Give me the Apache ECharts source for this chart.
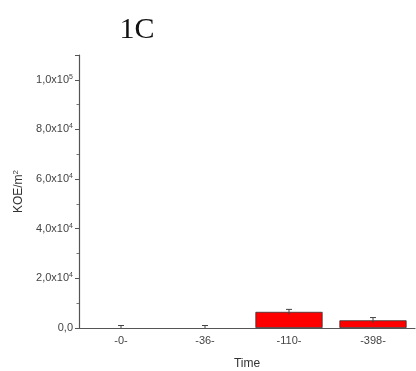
<!DOCTYPE html>
<html><head><meta charset="utf-8">
<script src="https://cdn.jsdelivr.net/npm/echarts@6/dist/echarts.min.js"></script>
<style>html,body{margin:0;padding:0;background:#fff}#c{width:416px;height:371px}</style>
</head><body><div id="c"></div>
<script>
var categories = ['-0-', '-36-', '-110-', '-398-'];
var values = [0, 0, 6500, 3100];
var errors = [1000, 1000, 1000, 1100];
var yTicks = {20000: ['2,0', '4'], 40000: ['4,0', '4'], 60000: ['6,0', '4'], 80000: ['8,0', '4'], 100000: ['1,0', '5']};

var chart = echarts.init(document.getElementById('c'));
chart.setOption({
  animation: false,
  title: {text: '1C', left: 132, top: 10, textAlign: 'center',
    textStyle: {fontFamily: 'Liberation Serif', fontSize: 30, fontWeight: 'normal', color: '#111'}},
  grid: {left: 79, right: 1, top: 55, bottom: 43, outerBoundsMode: 'none', containLabel: false},
  xAxis: [{
    type: 'category', data: categories,
    name: 'Time', nameLocation: 'middle', nameGap: 30,
    nameTextStyle: {fontFamily: 'Liberation Sans', fontSize: 12, color: '#333'},
    axisLine: {lineStyle: {color: '#555', width: 1.2}},
    axisTick: {alignWithLabel: true, length: 4, lineStyle: {color: '#555'}},
    axisLabel: {fontFamily: 'Liberation Sans', fontSize: 11, color: '#444', margin: 7}
  }, {
    type: 'category', data: categories, position: 'bottom',
    axisLine: {show: false}, axisLabel: {show: false},
    axisTick: {length: 3, lineStyle: {color: '#555'}}
  }],
  yAxis: {
    type: 'value', min: 0, max: 110000, interval: 20000,
    name: 'KOE/m{s|2}', nameLocation: 'middle', nameGap: 44, nameRotate: 90,
    nameTextStyle: {fontFamily: 'Liberation Sans', fontSize: 12, color: '#333',
      rich: {s: {fontSize: 8, padding: [0, 0, 7, 0], fontFamily: 'Liberation Sans', color: '#333'}}},
    axisLine: {show: true, lineStyle: {color: '#555', width: 1.2}},
    axisTick: {show: true, length: 4, lineStyle: {color: '#555'}},
    minorTick: {show: true, splitNumber: 2, length: 2.5, lineStyle: {color: '#777'}},
    splitLine: {show: false},
    axisLabel: {fontFamily: 'Liberation Sans', fontSize: 11, color: '#444', margin: 6,
      formatter: function (v) {
        if (v === 0) return '0,0';
        var t = yTicks[v];
        if (!t) return '';
        return t[0] + 'x10{s|' + t[1] + '}';
      },
      rich: {s: {fontSize: 7, padding: [0, 0, 6, 0], color: '#444', fontFamily: 'Liberation Sans'}}
    }
  },
  series: [{
    type: 'bar', barWidth: '80%',
    data: values.map(function (v) {
      return {value: v, itemStyle: {borderWidth: v === 0 ? 0 : 0.8}};
    }),
    itemStyle: {color: '#ff0000', borderColor: '#333'}
  }, {
    type: 'custom',
    data: values.map(function (v, i) { return [i, v, errors[i]]; }),
    renderItem: function (params, api) {
      var x = api.value(0), v = api.value(1), e = api.value(2);
      var top = api.coord([x, v + e]);
      var bot = api.coord([x, Math.max(0, v - e)]);
      var hw = 3;
      var st = {stroke: '#444', lineWidth: 1};
      return {type: 'group', children: [
        {type: 'line', shape: {x1: top[0], y1: top[1], x2: bot[0], y2: bot[1]}, style: st},
        {type: 'line', shape: {x1: top[0] - hw, y1: top[1], x2: top[0] + hw, y2: top[1]}, style: st}
      ]};
    },
    z: 5
  }]
});
</script></body></html>
